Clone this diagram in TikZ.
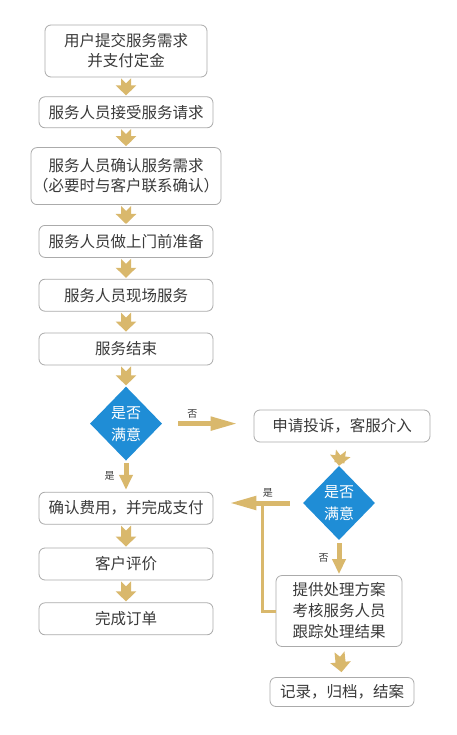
\documentclass[tikz,border=0pt]{standalone}
\usepackage{fontspec}
\newfontfamily\cjk{Noto Sans CJK SC}
\usetikzlibrary{arrows.meta,positioning,shapes.geometric}
\definecolor{Gold}{HTML}{D9B86C}
\definecolor{Blue}{HTML}{1F8DD6}
\definecolor{Frame}{HTML}{ABABAB}
\definecolor{Ink}{HTML}{3A3A3A}
\tikzset{
  stepbox/.style={rounded corners=6pt,draw=Frame,line width=.8pt,fill=white,minimum width=174pt,
    minimum height=32pt,inner ysep=1pt,align=center,text=Ink,font=\cjk\fontsize{15.5}{20}\selectfont},
  judge/.style={diamond,fill=Blue,minimum width=72pt,minimum height=74pt,inner sep=0pt,
    align=center,text=white,font=\cjk\fontsize{15}{22}\selectfont},
  fat/.style={draw=Gold,line width=10pt,{Triangle Cap[reversed]}-{Triangle[width=20pt,length=10pt]}},
  pointer/.style={draw=Gold,line width=5pt,-{Triangle[width=13pt,length=15pt]}},
  longpointer/.style={draw=Gold,line width=5pt,-{Triangle[width=13pt,length=27pt]}},
  link/.style={draw=Gold,line width=3pt},
  tag/.style={text=Ink,font=\cjk\fontsize{10}{12}\selectfont,inner sep=1pt}
}
\begin{document}
\begin{tikzpicture}[x=1pt,y=-1pt,node distance=20pt]
    \useasboundingbox[fill=white] (0,0) rectangle (456,735);
    % main column
    \node[stepbox,minimum width=162pt,minimum height=52pt] (submit) at (126,51) {用户提交服务需求\\并支付定金};
    \node[stepbox,minimum height=31pt,below=19pt of submit] (accept) {服务人员接受服务请求};
    \node[stepbox,minimum width=189pt,minimum height=57pt,inner xsep=2pt,below=19pt of accept] (confirm) {服务人员确认服务需求\\（必要时与客户联系确认）};
    \node[stepbox,below=of confirm] (prepare) {服务人员做上门前准备};
    \node[stepbox,below=21pt of prepare] (onsite) {服务人员现场服务};
    \node[stepbox,below=21pt of onsite] (finish) {服务结束};
    \node[judge,below=21pt of finish] (ask) {是否\\满意};
    \node[stepbox,below=31pt of ask] (pay) {确认费用，并完成支付};
    \node[stepbox,below=23pt of pay] (rate) {客户评价};
    \node[stepbox,below=22pt of rate] (done) {完成订单};
    \foreach \a/\b in {submit/accept,accept/confirm,confirm/prepare,prepare/onsite,onsite/finish,finish/ask,pay/rate,rate/done}
      \draw[fat,shorten <=1pt,shorten >=1pt] (\a.south) -- (\b.north);

    % complaint branch
    \node[stepbox,minimum width=176pt] (complain) at (342,426) {申请投诉，客服介入};
    \node[judge] (ask2) at (339,503) {是否\\满意};
    \node[stepbox,minimum width=126pt,minimum height=71pt,font=\cjk\fontsize{15.5}{21}\selectfont] (plan) at (339,611) {提供处理方案\\考核服务人员\\跟踪处理结果};
    \node[stepbox,minimum width=144pt,minimum height=29pt] (archive) at (342,692) {记录，归档，结案};
    \draw[fat,shorten <=8pt] (complain.south) -- (ask2.north);
    \draw[fat,shorten <=5pt,shorten >=5pt] (plan.south) -- (archive.north);

    \draw[pointer,shorten <=2pt,shorten >=2pt] (ask.south) -- node[tag,left=8pt]{是} (pay.north);
    \draw[longpointer,shorten <=16pt,shorten >=16pt] (ask.east) -- node[tag,above=2pt,pos=.33]{否} (ask.east -| complain.west);
    \draw[pointer,shorten <=3pt,shorten >=1pt] (ask2.south) -- node[tag,left=7pt]{否} (plan.north);
    \coordinate (turn) at (262,503);
    \draw[link] (plan.west) -| (turn);
    \draw[longpointer,shorten <=13pt,shorten >=16pt] (ask2.west) -- node[tag,above=2pt,pos=.39]{是} (ask2.west -| pay.east);
\end{tikzpicture}
\end{document}
